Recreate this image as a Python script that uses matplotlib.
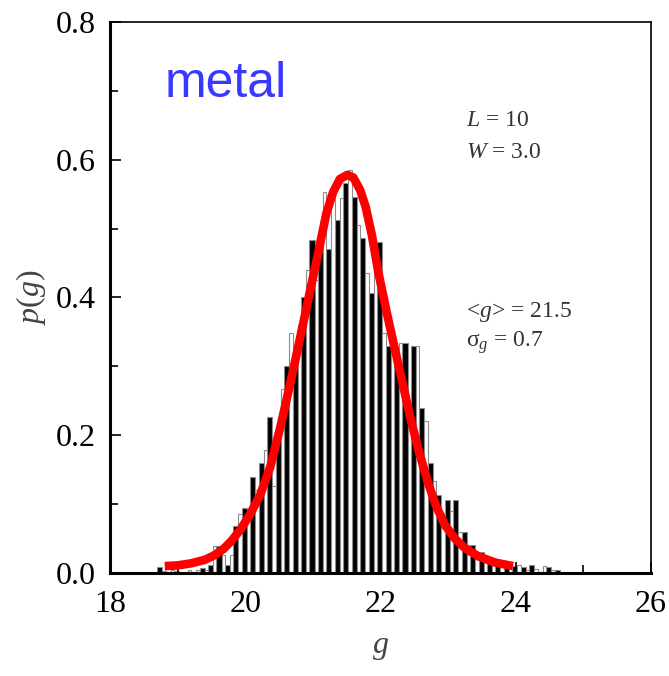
import matplotlib.pyplot as plt
import numpy as np

plt.rcParams['font.family'] = 'Liberation Serif'
plt.rcParams['mathtext.fontset'] = 'custom'
plt.rcParams['mathtext.rm'] = 'Liberation Serif'
plt.rcParams['mathtext.it'] = 'Liberation Serif:italic'

# histogram of conductance g, bars come in pairs (filled / open) every 0.125
g_start = 18.7
pair_step = 0.125
filled_heights = [0.008, 0.0, 0.003, 0.002, 0.0, 0.007, 0.012, 0.039, 0.012, 0.068,
                  0.094, 0.14, 0.16, 0.226, 0.2, 0.3, 0.297, 0.40, 0.483, 0.47,
                  0.47, 0.512, 0.566, 0.546, 0.486, 0.406, 0.48, 0.33, 0.31, 0.334,
                  0.33, 0.24, 0.16, 0.113, 0.106, 0.106, 0.06, 0.04, 0.03, 0.02,
                  0.015, 0.01, 0.01, 0.008, 0.012, 0.0, 0.008, 0.005]
open_heights = [0.003, 0.004, 0.0, 0.004, 0.005, 0.004, 0.039, 0.026, 0.026, 0.086,
                0.09, 0.12, 0.178, 0.126, 0.267, 0.348, 0.36, 0.44, 0.425, 0.553,
                0.544, 0.544, 0.585, 0.505, 0.435, 0.48, 0.348, 0.334, 0.334, 0.25,
                0.33, 0.22, 0.133, 0.087, 0.09, 0.06, 0.04, 0.022, 0.025, 0.015,
                0.012, 0.008, 0.012, 0.005, 0.006, 0.01, 0.004, 0.0]

# fitted distribution curve
fit_g = [18.81, 19.0, 19.2, 19.4, 19.55, 19.68, 19.8, 19.93, 20.07, 20.22, 20.37,
         20.52, 20.67, 20.82, 20.96, 21.08, 21.2, 21.3, 21.4, 21.51, 21.6, 21.7,
         21.78, 21.87, 21.97, 22.1, 22.22, 22.34, 22.45, 22.57, 22.7, 22.82, 22.95,
         23.1, 23.25, 23.45, 23.7, 23.96]
fit_p = [0.010, 0.011, 0.014, 0.019, 0.026, 0.035, 0.047, 0.063, 0.085, 0.113, 0.154,
         0.212, 0.277, 0.345, 0.41, 0.465, 0.522, 0.553, 0.572, 0.578, 0.574, 0.556,
         0.532, 0.492, 0.436, 0.375, 0.322, 0.27, 0.222, 0.176, 0.132, 0.098, 0.07,
         0.05, 0.036, 0.024, 0.015, 0.010]

fig = plt.figure(figsize=(6.69, 6.76), dpi=100)
ax = fig.add_axes([0.1644, 0.1524, 0.8086, 0.8151])

left = g_start + pair_step * np.arange(len(filled_heights))
ax.bar(left, filled_heights, width=0.075, align='edge', color='black',
       edgecolor='#8c8c8c', linewidth=0.8)
ax.bar(left + 0.075, open_heights, width=0.05, align='edge', color='white',
       edgecolor='#8c8c8c', linewidth=0.8)

ax.plot(fit_g, fit_p, color='#ff0000', linewidth=6.2,
        solid_capstyle='butt', solid_joinstyle='round')

ax.set_xlim(18, 26)
ax.set_ylim(0, 0.8)
ax.set_xticks([18, 20, 22, 24, 26])
ax.set_xticks([19, 21, 23, 25], minor=True)
ax.set_yticks([0.0, 0.2, 0.4, 0.6, 0.8])
ax.set_yticklabels(['0.0', '0.2', '0.4', '0.6', '0.8'])
ax.set_yticks([0.1, 0.3, 0.5, 0.7], minor=True)
ax.tick_params(which='both', direction='in', top=False, right=False,
               labelsize=23, width=1.2, colors='black')
ax.tick_params(which='major', length=8)
ax.tick_params(which='minor', length=6)
ax.tick_params(axis='x', pad=12)
ax.tick_params(axis='y', pad=10)

for side in ['left', 'bottom']:
    ax.spines[side].set_linewidth(2.2)
for side in ['top', 'right']:
    ax.spines[side].set_linewidth(1.2)

ax.set_ylabel('$p$($g$)', fontsize=23, labelpad=6, color='#444444')
ax.set_xlabel('$g$', fontsize=23, labelpad=10, color='#444444')

ax.text(18.81, 0.691, 'metal', fontsize=36, color='#3838ff', family='Liberation Sans')
ax.text(23.27, 0.649, '$L$ = 10', fontsize=17, color='#333333')
ax.text(23.27, 0.602, '$W$ = 3.0', fontsize=17, color='#333333')
ax.text(23.27, 0.372, '<$g$> = 21.5', fontsize=17, color='#333333')
ax.text(23.27, 0.328, 'σ$_g$ = 0.7', fontsize=17, color='#333333')

fig.savefig('out.png', dpi=100)
